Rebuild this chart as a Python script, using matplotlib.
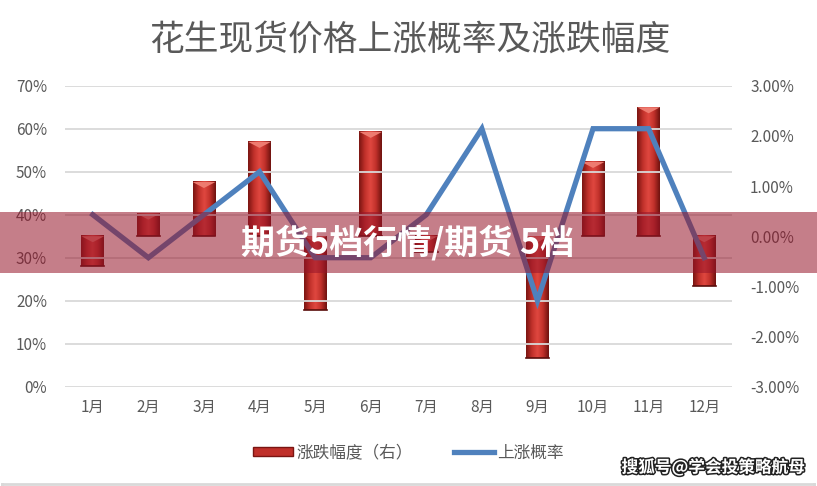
import numpy as np
import matplotlib
matplotlib.use("Agg")
from matplotlib import pyplot
from matplotlib.patches import Rectangle, Polygon, Patch
from matplotlib.lines import Line2D
from matplotlib.colors import LinearSegmentedColormap
from matplotlib.ticker import FuncFormatter
import matplotlib.patheffects as pe

pyplot.rcParams['font.family'] = ['Noto Sans CJK SC', 'DejaVu Sans']

# data
months = ['1月', '2月', '3月', '4月', '5月', '6月', '7月', '8月', '9月', '10月', '11月', '12月']
up_prob = [0.40, 0.30, 0.40, 0.50, 0.30, 0.30, 0.40, 0.60, 0.20, 0.60, 0.60, 0.30]
change = [-0.0060, 0.0045, 0.0108, 0.0188, -0.0147, 0.0208, -0.0032, 0.0000,
          -0.0242, 0.0148, 0.0257, -0.0100]
title = '花生现货价格上涨概率及涨跌幅度'
banner = '期货5档行情/期货 5档'
watermark = '搜狐号@学会投策略航母'

grey = '#595959'
W, H = 817, 486
fig = pyplot.figure(figsize=(W / 100, H / 100), dpi=100)
ax1 = fig.add_axes([65 / W, 1 - 386.7 / H, (732 - 65) / W, (386.7 - 85.7) / H])
ax2 = ax1.twinx()
ax1.set_zorder(ax2.get_zorder() + 1)
ax1.patch.set_visible(False)

xs = np.arange(len(months))
bw = 0.41

# 3D-looking red columns on the right axis
grad = np.linspace(0, 1, 64)
grad = np.vstack([grad, grad])
cyl = LinearSegmentedColormap.from_list('cyl', ['#7a1512', '#c0302a', '#e04840', '#c0302a', '#6e120f'])
for x, v in zip(xs, change):
    if abs(v) < 1e-6:
        continue
    lo, hi = min(0, v), max(0, v)
    ax2.imshow(grad, extent=[x - bw / 2, x + bw / 2, lo, hi], aspect='auto',
               cmap=cyl, interpolation='bicubic', zorder=2)
    cap = min(0.0012, (hi - lo) / 2)
    ax2.add_patch(Polygon([[x - bw / 2, hi], [x + bw / 2, hi], [x, hi - cap]],
                          closed=True, facecolor='#ee7b70', edgecolor='none', zorder=3))
    ax2.plot([x - bw / 2, x + bw / 2], [lo, lo], color='#5a0e0c', lw=1.2, zorder=3)

ax1.plot(xs, up_prob, color='#4f81bd', lw=3.8, solid_joinstyle='miter', zorder=4)

ax1.set_xlim(-0.5, len(months) - 0.5)
ax2.set_xlim(-0.5, len(months) - 0.5)
ax1.set_ylim(0, 0.7)
ax2.set_ylim(-0.03, 0.03)
ax1.set_yticks(np.arange(0, 0.71, 0.1))
ax2.set_yticks(np.arange(-0.03, 0.031, 0.01))
ax1.yaxis.set_major_formatter(FuncFormatter(lambda v, p: f'{v * 100:.0f}%'))
ax2.yaxis.set_major_formatter(FuncFormatter(lambda v, p: f'{v * 100:.2f}%'))
ax1.set_xticks(xs)
ax1.set_xticklabels(months)
ax1.grid(axis='y', color='#d9d9d9', lw=1.3)
ax1.set_axisbelow(True)
for ax in (ax1, ax2):
    for s in ax.spines.values():
        s.set_visible(False)
    ax.tick_params(length=0, labelsize=11, colors=grey, pad=13)
ax1.tick_params(axis='x', pad=9)

fig.text(410 / W, 1 - 40 / H, title, ha='center', va='center', fontsize=25, color=grey)

handles = [Patch(facecolor='#c0302a', edgecolor='#7a1512'),
           Line2D([0], [0], color='#4f81bd', lw=3.8)]
fig.legend(handles, ['涨跌幅度（右）', '上涨概率'], loc='center', ncol=2,
           bbox_to_anchor=(0.5, 1 - 453 / H), frameon=False, fontsize=12,
           labelcolor=grey, handlelength=2.4, handleheight=0.5,
           handletextpad=0.2, columnspacing=2.5)

# outer frame
for xy in ([[1.5, 1.5], [H, 483.5]], [[813.5, 813.5], [H, 483.5]], [[1.5, 813.5], [483.5, 483.5]]):
    fig.lines.append(Line2D([v / W for v in xy[0]], [1 - v / H for v in xy[1]],
                            transform=fig.transFigure, color='#d9d9d9', lw=2))

# overlay banner
fig.patches.append(Rectangle((0, 1 - 273 / H), 1, 61 / H, transform=fig.transFigure,
                             facecolor=(0.59, 0.08, 0.16), alpha=0.55, edgecolor='none', zorder=10))
fig.text(408 / W, 1 - 243 / H, banner, ha='center', va='center', fontsize=24.5,
         fontweight='heavy', color='white', zorder=11)
fig.text(713 / W, 1 - 467 / H, watermark, ha='center', va='center', fontsize=12,
         fontweight='bold', color='white', zorder=11,
         path_effects=[pe.withStroke(linewidth=2.2, foreground='#222222')])

pyplot.savefig('out.png', dpi=100)
